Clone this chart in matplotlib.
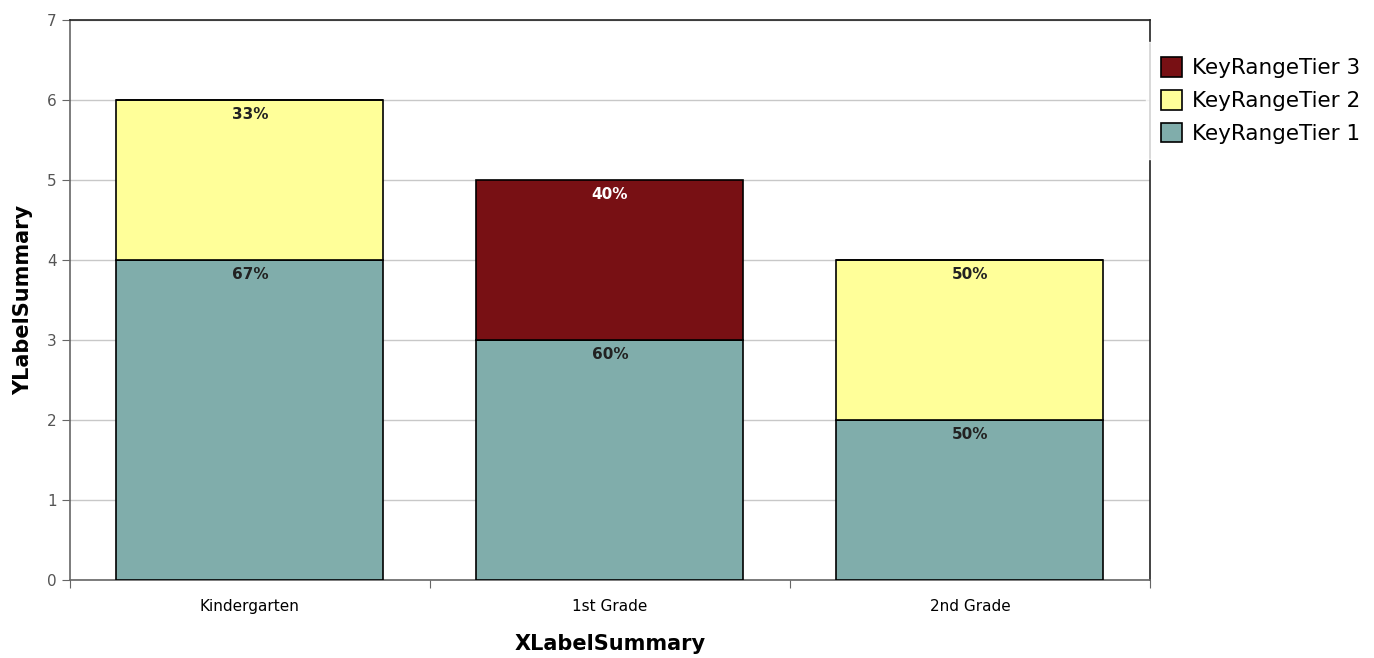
import numpy as np
import matplotlib.pyplot as plt

categories = ['Kindergarten', '1st Grade', '2nd Grade']
series_names = ['KeyRangeTier 1', 'KeyRangeTier 2', 'KeyRangeTier 3']
tier1 = [4, 3, 2]
tier2 = [2, 0, 2]
tier3 = [0, 2, 0]
pct_labels = {
    'KeyRangeTier 1': ['67%', '60%', '50%'],
    'KeyRangeTier 2': ['33%', '', '50%'],
    'KeyRangeTier 3': ['', '40%', ''],
}

colors = ['#80adab', '#ffff99', '#781014']
label_colors = ['#222222', '#222222', 'white']

fig = plt.figure(figsize=(13.74, 6.58), dpi=100)
ax = fig.add_axes([0.0509, 0.1185, 0.7860, 0.8511])

x = np.arange(len(categories)) + 0.5
width = 0.742
bottom = np.zeros(len(categories))
handles = []
for vals, name, c, lc in zip([tier1, tier2, tier3], series_names, colors, label_colors):
    vals = np.array(vals, dtype=float)
    b = ax.bar(x, vals, width, bottom=bottom, color=c, edgecolor='black',
               linewidth=1.2, label=name, zorder=3)
    handles.append(b)
    for xi, v, bt, txt in zip(x, vals, bottom, pct_labels[name]):
        if v > 0 and txt:
            ax.text(xi, bt + v - 0.09, txt, ha='center', va='top', fontsize=11,
                    fontweight='bold', color=lc, zorder=4)
    bottom += vals

ax.set_xlim(0, 3)
ax.set_ylim(0, 7)
ax.set_yticks(range(0, 8))
ax.set_xticks([0, 1, 2, 3])
ax.set_xticklabels([])
ax.set_xticks(x, minor=True)
ax.set_xticklabels(categories, minor=True, fontsize=11)
ax.tick_params(axis='x', which='minor', length=0, pad=14)
ax.tick_params(axis='x', which='major', length=6, color='#666666', direction='out')
ax.tick_params(axis='y', length=6, color='#666666', labelsize=11, labelcolor='#555555')
ax.yaxis.grid(True, color='#c8c8c8', linewidth=1, zorder=0)
ax.set_axisbelow(True)

ax.spines['left'].set_color('#666666')
ax.spines['bottom'].set_color('#666666')
ax.spines['top'].set_color('#222222')
ax.spines['right'].set_color('#222222')
for s in ax.spines.values():
    s.set_linewidth(1.2)

ax.set_xlabel('XLabelSummary', fontsize=15, fontweight='bold', labelpad=14)
ax.set_ylabel('YLabelSummary', fontsize=15, fontweight='bold', labelpad=10)

leg = ax.legend(handles[::-1], series_names[::-1], loc='upper left',
                bbox_to_anchor=(0.996, 0.96), frameon=True, fontsize=15.5,
                handlelength=1.0, handleheight=1.0, handletextpad=0.45,
                labelspacing=0.55, borderpad=0.7, borderaxespad=0,
                fancybox=False)
leg.get_frame().set_edgecolor('white')
leg.get_frame().set_facecolor('white')
leg.set_zorder(10)

plt.savefig('out.png', dpi=100)
plt.close()
